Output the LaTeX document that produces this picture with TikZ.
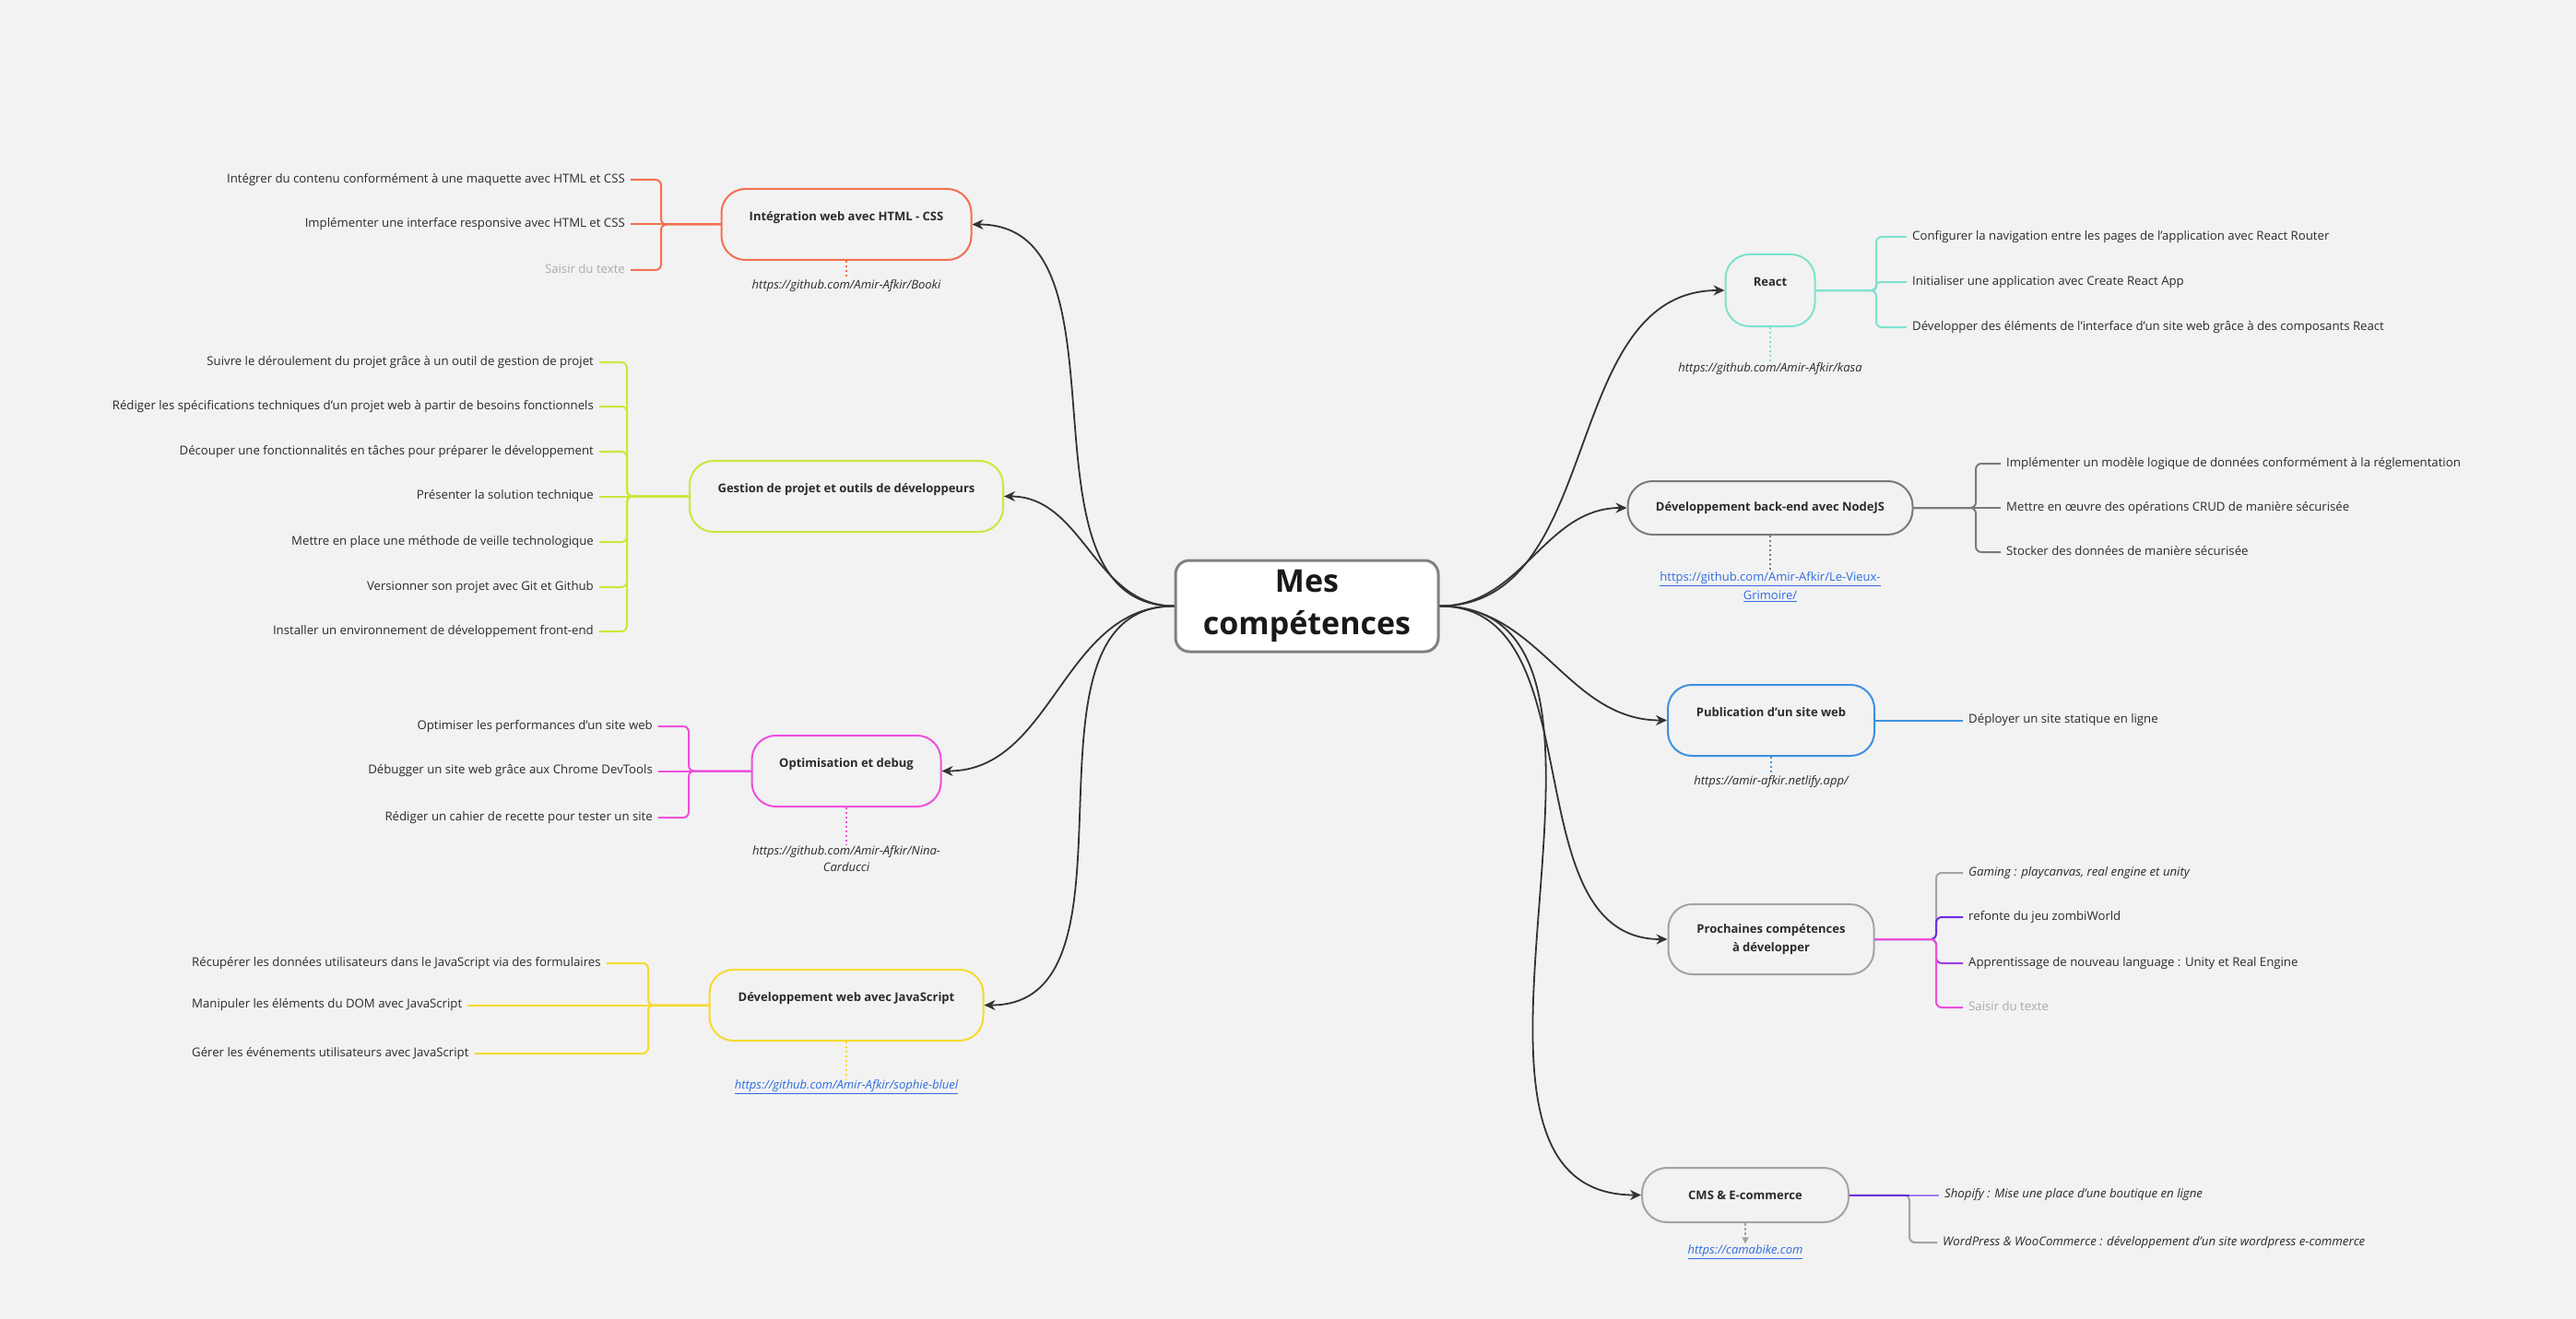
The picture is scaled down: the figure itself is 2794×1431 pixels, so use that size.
\documentclass[tikz,border=0pt]{standalone}
\usepackage{fontspec}
\setmainfont{Open Sans}
\usetikzlibrary{arrows.meta,calc}
\definecolor{bgc}{HTML}{F2F2F2}
\definecolor{corange}{HTML}{F26F4F}
\definecolor{clime}{HTML}{C9E83A}
\definecolor{cmag}{HTML}{EE4FDD}
\definecolor{cyel}{HTML}{F6DA2C}
\definecolor{cturq}{HTML}{7DE2CD}
\definecolor{cgreyd}{HTML}{7A7A7A}
\definecolor{cgreyl}{HTML}{A3A3A3}
\definecolor{cblue}{HTML}{3D8FE0}
\definecolor{cpurp}{HTML}{6B2FE6}
\definecolor{cpurpm}{HTML}{A13CD6}
\definecolor{cpurpl}{HTML}{A77BF0}
\definecolor{clink}{HTML}{2F6CE0}
\definecolor{ctext}{HTML}{2B2B2B}
\definecolor{cconn}{HTML}{333333}
\definecolor{cghost}{HTML}{ABABAB}
\definecolor{ccore}{HTML}{808080}
\newcommand{\fsz}[2]{\fontsize{#1}{#2}\selectfont}
\begin{document}
\begin{tikzpicture}[x=1pt,y=-1pt,
  topic/.style={draw, line width=2pt, rounded corners=26pt, inner sep=0pt, font=\fsz{13}{19.5}\bfseries, text=ctext, align=center},
  hi/.style={text height=9.5pt, text depth=18pt},
  item/.style={inner xsep=6pt, inner ysep=2pt, text height=10pt, text depth=3.5pt, font=\fsz{13.2}{16}, text=ctext},
  ghost/.style={text=cghost},
  linktxt/.style={font=\fsz{13}{17.5}\itshape, text=ctext, align=center, inner sep=1pt},
  ulink/.style={text=clink},
  br/.style={line width=2pt, rounded corners=6pt},
  dotl/.style={line width=2pt, dash pattern=on 2pt off 3pt},
  conn/.style={line width=1.8pt, draw=cconn, -{Stealth[length=12pt,width=11pt]}},
]
\fill[bgc] (0,0) rectangle (2794,1431);
\useasboundingbox (0,0) rectangle (2794,1431);

% central node
\node[draw=ccore, line width=3pt, fill=white, rounded corners=15pt, minimum width=285pt, minimum height=99pt, inner sep=0pt, font=\fsz{34}{46}\bfseries, text=black!90, align=center] (core) at (1417.5,657.5) {Mes\\compétences};

% left topics
\node[topic, hi, draw=corange, minimum width=271pt, minimum height=77pt] (html) at (918,243.5) {Intégration web avec HTML - CSS};
\node[topic, hi, draw=clime, minimum width=340pt, minimum height=77pt] (gest) at (918,538.5) {Gestion de projet et outils de développeurs};
\node[topic, hi, draw=cmag, minimum width=205pt, minimum height=77pt] (optim) at (918,836.5) {Optimisation et debug};
\node[topic, hi, draw=cyel, minimum width=297pt, minimum height=77pt] (js) at (918,1090.5) {Développement web avec JavaScript};

% right topics
\node[topic, hi, draw=cturq, minimum width=97pt, minimum height=78pt] (react) at (1920,315) {React};
\node[topic, draw=cgreyd, minimum width=309pt, minimum height=58pt, rounded corners=27pt] (back) at (1920,551) {Développement back-end avec NodeJS};
\node[topic, hi, draw=cblue, minimum width=224pt, minimum height=77pt] (pub) at (1921,781.5) {Publication d'un site web};
\node[topic, draw=cgreyl, minimum width=223pt, minimum height=76pt] (proch) at (1921,1019) {Prochaines compétences\\à développer};
\node[topic, draw=cgreyl, minimum width=224pt, minimum height=59pt, rounded corners=27pt] (cms) at (1893,1296.5) {CMS \& E-commerce};

% central connectors
\draw[conn] (core.west) to[out=180,in=0] (html.east);
\draw[conn] (core.west) to[out=180,in=0] (gest.east);
\draw[conn] (core.west) to[out=180,in=0] (optim.east);
\draw[conn] (core.west) to[out=180,in=0] (js.east);
\draw[conn] (core.east) to[out=0,in=180] (react.west);
\draw[conn] (core.east) to[out=0,in=180] (back.west);
\draw[conn] (core.east) to[out=0,in=180] (pub.west);
\draw[conn] (core.east) to[out=0,in=180] (proch.west);
\draw[conn] (core.east) to[out=0,in=180] (cms.west);

% junction coordinates
\coordinate (jA) at (717,0);
\coordinate (jG) at (680,0);
\coordinate (jO) at (747,0);
\coordinate (jJ) at (703,0);
\coordinate (jR) at (2035,0);
\coordinate (jB) at (2143,0);
\coordinate (jP) at (2100,0);
\coordinate (jC) at (2071,0);

% HTML items
\node[item, anchor=east] (a1) at (684,195) {Intégrer du contenu conformément à une maquette avec HTML et CSS};
\node[item, anchor=east] (a2) at (684,243.5) {Implémenter une interface responsive avec HTML et CSS};
\node[item, ghost, anchor=east] (a3) at (684,293) {Saisir du texte};
\draw[br, draw=corange] (html.west) -| (jA |- a1.east) -- (a1.east);
\draw[br, draw=corange] (html.west) -- (a2.east);
\draw[br, draw=corange] (html.west) -| (jA |- a3.east) -- (a3.east);

% Gestion items
\node[item, anchor=east] (g1) at (650,393) {Suivre le déroulement du projet grâce à un outil de gestion de projet};
\node[item, anchor=east] (g2) at (650,441) {Rédiger les spécifications techniques d'un projet web à partir de besoins fonctionnels};
\node[item, anchor=east] (g3) at (650,490) {Découper une fonctionnalités en tâches pour préparer le développement};
\node[item, anchor=east] (g4) at (650,538.5) {Présenter la solution technique};
\node[item, anchor=east] (g5) at (650,588) {Mettre en place une méthode de veille technologique};
\node[item, anchor=east] (g6) at (650,637) {Versionner son projet avec Git et Github};
\node[item, anchor=east] (g7) at (650,685) {Installer un environnement de développement front-end};
\foreach \g in {g1,g2,g3,g5,g6,g7}{
  \draw[br, draw=clime] (gest.west) -| (jG |- \g.east) -- (\g.east);
}
\draw[br, draw=clime] (gest.west) -- (g4.east);

% Optimisation items
\node[item, anchor=east] (o1) at (714,788) {Optimiser les performances d’un site web};
\node[item, anchor=east] (o2) at (714,836.5) {Débugger un site web grâce aux Chrome DevTools};
\node[item, anchor=east] (o3) at (714,887) {Rédiger un cahier de recette pour tester un site};
\draw[br, draw=cmag] (optim.west) -| (jO |- o1.east) -- (o1.east);
\draw[br, draw=cmag] (optim.west) -- (o2.east);
\draw[br, draw=cmag] (optim.west) -| (jO |- o3.east) -- (o3.east);

% JS items
\node[item, anchor=west] (s1) at (202,1045) {Récupérer les données utilisateurs dans le JavaScript via des formulaires};
\node[item, anchor=west] (s2) at (202,1090.5) {Manipuler les éléments du DOM avec JavaScript};
\node[item, anchor=west] (s3) at (202,1143) {Gérer les événements utilisateurs avec JavaScript};
\draw[br, draw=cyel] (js.west) -| (jJ |- s1.east) -- (s1.east);
\draw[br, draw=cyel] (js.west) -- (s2.east);
\draw[br, draw=cyel] (js.west) -| (jJ |- s3.east) -- (s3.east);

% React items
\node[item, anchor=west] (r1) at (2068,257) {Configurer la navigation entre les pages de l'application avec React Router};
\node[item, anchor=west] (r2) at (2068,306) {Initialiser une application avec Create React App};
\node[item, anchor=west] (r3) at (2068,355) {Développer des éléments de l'interface d'un site web grâce à des composants React};
\draw[br, draw=cturq] (react.east) -| (jR |- r1.west) -- (r1.west);
\draw[br, draw=cturq, rounded corners=4pt] (react.east) -| (jR |- r2.west) -- (r2.west);
\draw[br, draw=cturq] (react.east) -| (jR |- r3.west) -- (r3.west);

% Back-end items
\node[item, anchor=west] (b1) at (2170,503) {Implémenter un modèle logique de données conformément à la réglementation};
\node[item, anchor=west] (b2) at (2170,551) {Mettre en œuvre des opérations CRUD de manière sécurisée};
\node[item, anchor=west] (b3) at (2170,599) {Stocker des données de manière sécurisée};
\draw[br, draw=cgreyd] (back.east) -| (jB |- b1.west) -- (b1.west);
\draw[br, draw=cgreyd] (back.east) -- (b2.west);
\draw[br, draw=cgreyd] (back.east) -| (jB |- b3.west) -- (b3.west);

% Publication item
\node[item, anchor=west] (u1) at (2129,781.5) {Déployer un site statique en ligne};
\draw[br, draw=cblue] (pub.east) -- (u1.west);

% Prochaines items
\node[item, anchor=west, font=\fsz{13.2}{16}\itshape] (p1) at (2129,947) {Gaming : playcanvas, real engine et unity};
\node[item, anchor=west] (p2) at (2129,995) {refonte du jeu zombiWorld};
\node[item, anchor=west] (p3) at (2129,1045) {Apprentissage de nouveau language : Unity et Real Engine};
\node[item, ghost, anchor=west] (p4) at (2129,1093) {Saisir du texte};
\draw[br, draw=cgreyl] (proch.east) -| (jP |- p1.west) -- (p1.west);
\draw[br, draw=cpurp] (proch.east) -| (jP |- p2.west) -- (p2.west);
\draw[br, draw=cpurpm] (proch.east) -| (jP |- p3.west) -- (p3.west);
\draw[br, draw=cmag] (proch.east) -| (jP |- p4.west) -- (p4.west);

% CMS items
\node[item, anchor=west, font=\fsz{13.2}{16}\itshape] (c1) at (2103,1296.5) {Shopify : Mise une place d'une boutique en ligne};
\node[item, anchor=west, font=\fsz{13.2}{16}\itshape] (c2) at (2101,1348) {WordPress \& WooCommerce : développement d'un site wordpress e-commerce};
\draw[br, draw=cgreyl] (cms.east) -| (jC |- c2.west) -- (c2.west);
\draw[br, draw=cpurp] (cms.east) -- (jC |- c1.west);
\draw[br, draw=cpurpl] (jC |- c1.west) -- (c1.west);

% links
\node[linktxt] (lA) at (918,310) {https://github.com/Amir-Afkir/Booki};
\draw[dotl, draw=corange] (html.south) -- (lA.north);
\node[linktxt] (lO) at (918,931.5) {https://github.com/Amir-Afkir/Nina-\\Carducci};
\draw[dotl, draw=cmag] (optim.south) -- (lO.north);
\node[linktxt, ulink] (lJ) at (918,1179) {\underline{https://github.com/Amir-Afkir/sophie-bluel}};
\draw[dotl, draw=cyel] (js.south) -- (lJ.north);
\node[linktxt] (lR) at (1920,400) {https://github.com/Amir-Afkir/kasa};
\draw[dotl, draw=cturq] (react.south) -- (lR.north);
\node[linktxt, ulink, font=\fsz{13}{20}\upshape] (lB) at (1920,637) {\underline{https://github.com/Amir-Afkir/Le-Vieux-}\\\underline{Grimoire/}};
\draw[dotl, draw=cgreyd] (back.south) -- (lB.north);
\node[linktxt] (lP) at (1921,848) {https://amir-afkir.netlify.app/};
\draw[dotl, draw=cblue] (pub.south) -- (lP.north);
\node[linktxt, ulink] (lC) at (1893,1358) {\underline{https://camabike.com}};
\draw[line width=1.2pt, draw=cgreyl, dash pattern=on 3pt off 2pt, -{Triangle[length=7pt,width=7pt]}] (cms.south) -- (lC.north);
\end{tikzpicture}
\end{document}
